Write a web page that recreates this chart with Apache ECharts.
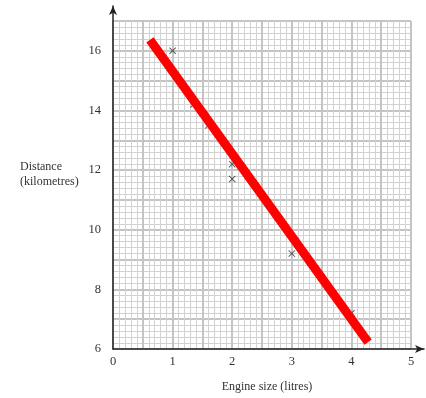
<!DOCTYPE html>
<html>
<head>
<meta charset="utf-8">
<script src="https://cdn.jsdelivr.net/npm/echarts@6/dist/echarts.min.js"></script>
<style>
  html, body { margin: 0; padding: 0; background: #fff; }
  #chart { width: 426px; height: 398px; }
</style>
</head>
<body>
<div id="chart"></div>
<script>
// measured points (engine size, distance)
const engineSize = [1, 1.35, 1.6, 2, 2, 3, 3.5, 4];
const distance = [16, 14.2, 13.5, 12.2, 11.7, 9.2, 8.4, 7.2];
// line of best fit, drawn end to end
const fitX = [0.62, 4.28];
const fitY = [16.37, 6.23];

const serif = '"Liberation Serif", "DejaVu Serif", serif';
const gridColor = '#c4c4c4';

const chart = echarts.init(document.getElementById('chart'));

chart.setOption({
    animation: false,
    backgroundColor: '#fff',
    title: [
        {
            text: 'Distance\n(kilometres)',
            left: 15, top: 154,
            textStyle: { fontFamily: serif, fontSize: 12, fontWeight: 'normal', color: '#333', lineHeight: 15 }
        },
        {
            text: 'Engine size (litres)',
            left: 262, top: 376, textAlign: 'center',
            textStyle: { fontFamily: serif, fontSize: 12, fontWeight: 'normal', color: '#333' }
        }
    ],
    grid: [
        { left: 113, right: 15, top: 21, bottom: 49 },
        { left: 113, right: 2, top: 6, bottom: 49 }
    ],
    xAxis: [
        {
            gridIndex: 0, type: 'value', min: 0, max: 5, interval: 0.5,
            axisLine: { show: false },
            axisTick: { show: false },
            axisLabel: {
                margin: 6, color: '#333', fontFamily: serif, fontSize: 12.5,
                formatter: v => (Number.isInteger(v) ? String(v) : '')
            },
            splitLine: { show: true, lineStyle: { color: gridColor, width: 2 } },
            minorTick: { show: false, splitNumber: 5 },
            minorSplitLine: { show: true, lineStyle: { color: '#d2d2d2', width: 1 } }
        },
        {
            gridIndex: 1, type: 'value', min: 0, max: 1,
            axisLine: { show: true, symbol: ['none', 'arrow'], symbolSize: [6, 9], lineStyle: { color: '#222', width: 1.5 } },
            axisTick: { show: false }, axisLabel: { show: false }, splitLine: { show: false }
        }
    ],
    yAxis: [
        {
            gridIndex: 0, type: 'value', min: 6, max: 17, interval: 1,
            axisLine: { show: false },
            axisTick: { show: false },
            axisLabel: {
                margin: 12, color: '#333', fontFamily: serif, fontSize: 12.5,
                formatter: v => (v % 2 === 0 ? String(v) : '')
            },
            splitLine: { show: true, lineStyle: { color: gridColor, width: 2 } },
            minorTick: { show: false, splitNumber: 5 },
            minorSplitLine: { show: true, lineStyle: { color: '#d2d2d2', width: 1 } }
        },
        {
            gridIndex: 1, type: 'value', min: 0, max: 1,
            axisLine: { show: true, symbol: ['none', 'arrow'], symbolSize: [6, 9], lineStyle: { color: '#222', width: 1.5 } },
            axisTick: { show: false }, axisLabel: { show: false }, splitLine: { show: false }
        }
    ],
    series: [
        {
            type: 'scatter',
            xAxisIndex: 0, yAxisIndex: 0,
            data: engineSize.map((x, i) => [x, distance[i]]),
            symbol: 'path://M0,1L1,0L5,4L9,0L10,1L6,5L10,9L9,10L5,6L1,10L0,9L4,5Z',
            symbolSize: 7,
            itemStyle: { color: '#333' },
            z: 3
        },
        {
            type: 'line',
            xAxisIndex: 0, yAxisIndex: 0,
            data: fitX.map((x, i) => [x, fitY[i]]),
            showSymbol: false,
            lineStyle: { color: '#ff0000', width: 9, cap: 'butt' },
            z: 4
        }
    ]
});
</script>
</body>
</html>
